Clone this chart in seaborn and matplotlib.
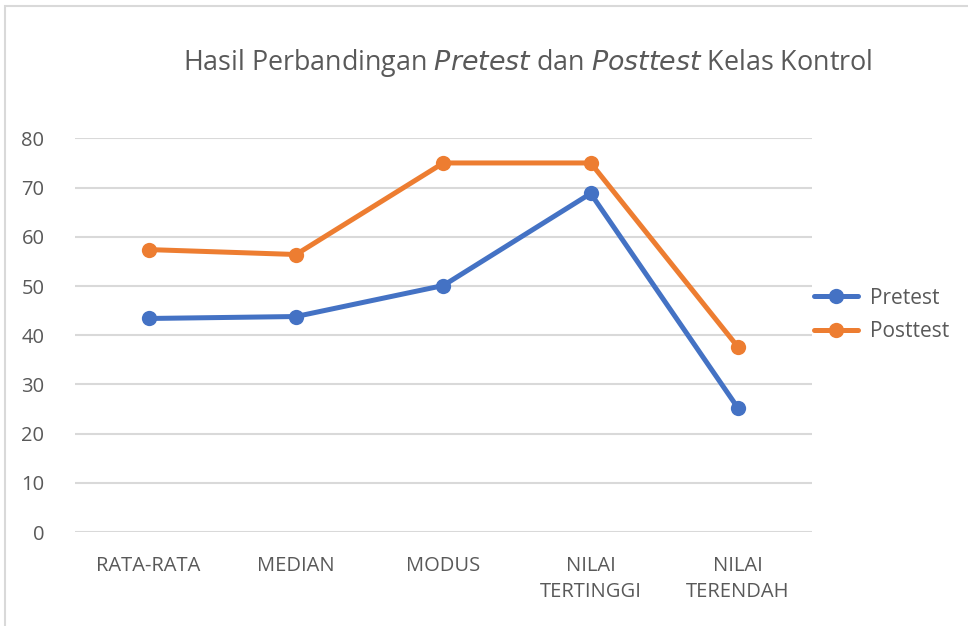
import pandas as pd
import matplotlib
matplotlib.use("Agg")
import matplotlib.pyplot as plt
import seaborn as sns
from matplotlib.patches import Rectangle
from matplotlib.lines import Line2D

# data
categories = ["RATA-RATA", "MEDIAN", "MODUS", "NILAI\nTERTINGGI", "NILAI\nTERENDAH"]
pretest = [43.4, 43.8, 50.1, 68.8, 25.2]
posttest = [57.4, 56.4, 75.0, 75.0, 37.6]
series_names = ["Pretest", "Posttest"]
colors = ["#4472C4", "#ED7D31"]

df = pd.DataFrame({
    "kategori": categories * 2,
    "nilai": pretest + posttest,
    "seri": [series_names[0]] * len(categories) + [series_names[1]] * len(categories),
})

sns.set_style("white")
plt.rcParams["font.family"] = ["Open Sans", "DejaVu Sans"]
text_color = "#595959"

fig = plt.figure(figsize=(9.68, 6.26), dpi=100)
ax = fig.add_axes([0.0775, 0.150, 0.761, 0.629])

sns.lineplot(data=df, x="kategori", y="nilai", hue="seri", palette=colors,
             marker="o", markersize=11, markeredgewidth=0, linewidth=3.6,
             sort=False, ax=ax, legend=False)

ax.set_xlim(-0.5, len(categories) - 0.5)
ax.set_ylim(0, 80)
ax.set_yticks(range(0, 81, 10))
ax.yaxis.grid(True, color="#d9d9d9", linewidth=1.5)
ax.set_axisbelow(True)
for s in ax.spines.values():
    s.set_visible(False)
ax.set_xlabel("")
ax.set_ylabel("")
ax.tick_params(axis="both", length=0, labelsize=14.5, labelcolor=text_color)
ax.tick_params(axis="x", pad=17)
ax.tick_params(axis="y", pad=22)
for lbl in ax.get_xticklabels():
    lbl.set_linespacing(1.45)

fig.text(0.545, 0.899, "Hasil Perbandingan $\\it{Pretest}$ dan $\\it{Posttest}$ Kelas Kontrol",
         ha="center", va="center", fontsize=19.4, color=text_color)

handles = [Line2D([], [], color=c, linewidth=3.6, marker="o", markersize=11, markeredgewidth=0)
           for c in colors]
leg = fig.legend(handles, series_names, loc="center left", bbox_to_anchor=(0.822, 0.497),
                 frameon=False, fontsize=15, handlelength=2.1, handletextpad=0.55,
                 labelspacing=0.6)
for t in leg.get_texts():
    t.set_color(text_color)

fig.patches.append(Rectangle((5 / 968, -0.01), 1.0, 1 - 6 / 626 + 0.01,
                             transform=fig.transFigure, fill=False,
                             edgecolor="#d9d9d9", linewidth=1.5))

fig.savefig("out.png", dpi=100)
